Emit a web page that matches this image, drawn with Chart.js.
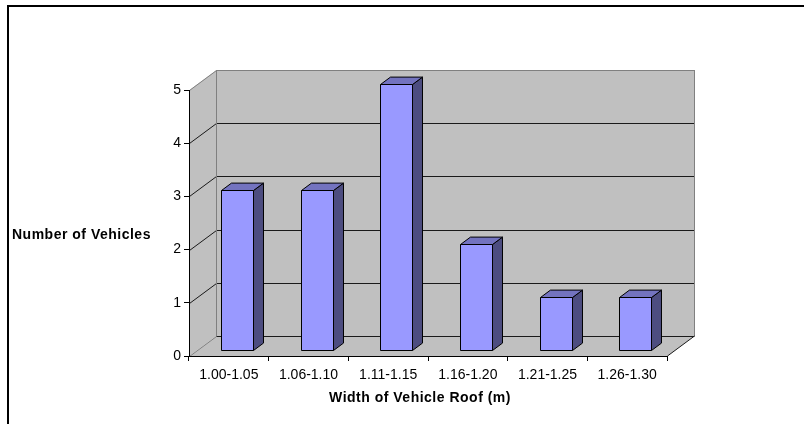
<!DOCTYPE html>
<html><head><meta charset="utf-8">
<script src="https://cdn.jsdelivr.net/npm/chart.js@4"></script>
<style>html,body{margin:0;padding:0;background:#fff;}canvas{display:block;}</style>
</head><body>
<canvas id="c" width="804" height="424"></canvas>
<script>
const categories = ["1.00-1.05", "1.06-1.10", "1.11-1.15", "1.16-1.20", "1.21-1.25", "1.26-1.30"];
const vehicleCounts = [3, 3, 5, 2, 1, 1];
const yAxisMin = 0;
const yAxisMax = 5;
const yStep = 1;
const xTitle = "Width of Vehicle Roof (m)";
const yTitle = "Number of Vehicles";

const DEPTH_X = 27, DEPTH_Y = -20;
const BAR_POS = 0.3, BAR_DEPTH = 0.37;
const WALL = '#C0C0C0', EDGE = '#808080', GRID = '#1a1a1a';
const FRONT = '#9999FF', SIDE = '#4D4D80', TOP = '#7373BF';
const FONT = '"Liberation Sans", Arial, sans-serif';

function poly(ctx, pts, fill, stroke) {
  ctx.beginPath();
  pts.forEach((p, i) => i ? ctx.lineTo(p[0], p[1]) : ctx.moveTo(p[0], p[1]));
  ctx.closePath();
  if (fill) { ctx.fillStyle = fill; ctx.fill(); }
  if (stroke) { ctx.strokeStyle = stroke; ctx.lineWidth = 1; ctx.stroke(); }
}
function line(ctx, pts, color) {
  ctx.beginPath();
  pts.forEach((p, i) => i ? ctx.lineTo(p[0], p[1]) : ctx.moveTo(p[0], p[1]));
  ctx.strokeStyle = color; ctx.lineWidth = 1; ctx.stroke();
}

const walls3d = {
  id: 'walls3d',
  beforeDraw(chart) {
    const ctx = chart.ctx, a = chart.chartArea, ys = chart.scales.y;
    const L = a.left + 0.5, R = a.right + 0.5;
    const B = ys.getPixelForValue(yAxisMin), T = ys.getPixelForValue(yAxisMax);
    const dx = DEPTH_X, dy = DEPTH_Y;
    ctx.save();
    ctx.strokeStyle = '#000'; ctx.lineWidth = 2;
    ctx.strokeRect(8, 6, 840, 460);
    poly(ctx, [[L + dx, T + dy], [R + dx, T + dy], [R + dx, B + dy], [L + dx, B + dy]], WALL);
    poly(ctx, [[L, B], [L, T], [L + dx, T + dy], [L + dx, B + dy]], WALL);
    poly(ctx, [[L, B], [R, B], [R + dx, B + dy], [L + dx, B + dy]], WALL);
    ys.ticks.forEach(t => {
      const y = Math.round(ys.getPixelForValue(t.value)) + 0.5;
      if (t.value === yAxisMax) {
        line(ctx, [[L, y], [L + dx, y + dy], [R + dx, y + dy]], EDGE);
      } else if (t.value === yAxisMin) {
        line(ctx, [[L, y], [L + dx, y + dy]], EDGE);
        line(ctx, [[L + dx, y + dy], [R + dx, y + dy]], GRID);
      } else {
        line(ctx, [[L, y], [L + dx, y + dy], [R + dx, y + dy]], GRID);
      }
    });
    line(ctx, [[L + dx, T + dy], [L + dx, B + dy]], EDGE);
    line(ctx, [[R + dx, T + dy], [R + dx, B + dy]], EDGE);
    line(ctx, [[R, B], [R + dx, B + dy]], GRID);
    ctx.fillStyle = '#000';
    ctx.font = 'bold 14px ' + FONT;
    ctx.letterSpacing = '0.5px';
    ctx.textBaseline = 'alphabetic';
    ctx.textAlign = 'left';
    ctx.fillText(yTitle, 12, 239);
    ctx.textAlign = 'center';
    ctx.fillText(xTitle, 420, 402);
    ctx.restore();
  },
  afterDatasetsDraw(chart) {
    const ctx = chart.ctx;
    const meta = chart.getDatasetMeta(0);
    const ox = DEPTH_X * BAR_POS, oy = DEPTH_Y * BAR_POS;
    const bx = DEPTH_X * BAR_DEPTH, by = DEPTH_Y * BAR_DEPTH;
    ctx.save();
    meta.data.forEach(bar => {
      const p = bar.getProps(['x', 'y', 'base', 'width'], true);
      const x0 = Math.round(p.x - p.width / 2 + ox) + 0.5;
      const x1 = Math.round(p.x + p.width / 2 + ox) + 0.5;
      const yt = Math.round(p.y + oy) + 0.5, yb = Math.round(p.base + oy) + 0.5;
      poly(ctx, [[x1, yb], [x1, yt], [x1 + bx, yt + by], [x1 + bx, yb + by]], SIDE, '#000');
      poly(ctx, [[x0, yt], [x1, yt], [x1 + bx, yt + by], [x0 + bx, yt + by]], TOP, '#000');
      poly(ctx, [[x0, yt], [x1, yt], [x1, yb], [x0, yb]], FRONT, '#000');
    });
    ctx.restore();
  }
};

new Chart(document.getElementById('c'), {
  type: 'bar',
  data: {
    labels: categories,
    datasets: [{
      data: vehicleCounts,
      backgroundColor: 'rgba(0,0,0,0)',
      borderWidth: 0,
      categoryPercentage: 1.0,
      barPercentage: 0.4
    }]
  },
  options: {
    responsive: false,
    animation: false,
    devicePixelRatio: 1,
    layout: { padding: { left: 0, top: 90, right: 137, bottom: 0 } },
    plugins: { legend: { display: false }, tooltip: { enabled: false }, title: { display: false } },
    scales: {
      x: {
        type: 'category',
        offset: true,
        grid: { offset: true, drawOnChartArea: false, drawTicks: true, tickLength: 5, color: '#000' },
        border: { color: '#000' },
        ticks: { color: '#000', font: { family: FONT, size: 14 }, padding: 6, maxRotation: 0, autoSkip: false },
        afterFit: s => { s.height = 68; }
      },
      y: {
        min: yAxisMin,
        max: yAxisMax,
        ticks: { stepSize: yStep, color: '#000', font: { family: FONT, size: 14 }, padding: 3 },
        grid: { drawOnChartArea: false, drawTicks: true, tickLength: 5, color: '#000' },
        border: { color: '#000' },
        afterFit: s => { s.width = 189; }
      }
    }
  },
  plugins: [walls3d]
});
</script>
</body></html>
